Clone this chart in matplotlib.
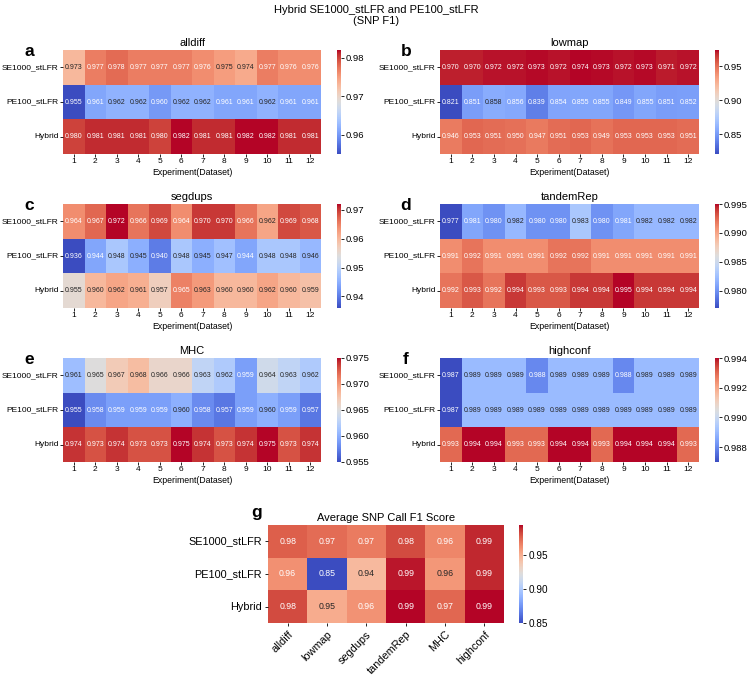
import numpy as np
import matplotlib
matplotlib.use("Agg")
import matplotlib.pyplot as plt
import seaborn as sns

plt.rcParams["font.family"] = ["Liberation Sans", "DejaVu Sans"]

W, H = 752, 685

platforms = ["SE1000_stLFR", "PE100_stLFR", "Hybrid"]
experiments = [str(i) for i in range(1, 13)]
regions = ["alldiff", "lowmap", "segdups", "tandemRep", "MHC", "highconf"]
letters = ["a", "b", "c", "d", "e", "f"]

# SNP F1 per region, rows = SE1000_stLFR, PE100_stLFR, Hybrid
alldiff = [
    [0.973, 0.977, 0.978, 0.977, 0.977, 0.977, 0.976, 0.975, 0.974, 0.977, 0.976, 0.976],
    [0.955, 0.961, 0.962, 0.962, 0.960, 0.962, 0.962, 0.961, 0.961, 0.962, 0.961, 0.961],
    [0.980, 0.981, 0.981, 0.981, 0.980, 0.982, 0.981, 0.981, 0.982, 0.982, 0.981, 0.981],
]
lowmap = [
    [0.970, 0.970, 0.972, 0.972, 0.973, 0.972, 0.974, 0.973, 0.972, 0.973, 0.971, 0.972],
    [0.821, 0.851, 0.858, 0.856, 0.839, 0.854, 0.855, 0.855, 0.849, 0.855, 0.851, 0.852],
    [0.946, 0.953, 0.951, 0.950, 0.947, 0.951, 0.953, 0.949, 0.953, 0.953, 0.953, 0.951],
]
segdups = [
    [0.964, 0.967, 0.972, 0.966, 0.969, 0.964, 0.970, 0.970, 0.966, 0.962, 0.969, 0.968],
    [0.936, 0.944, 0.948, 0.945, 0.940, 0.948, 0.945, 0.947, 0.944, 0.948, 0.948, 0.946],
    [0.955, 0.960, 0.962, 0.961, 0.957, 0.965, 0.963, 0.960, 0.960, 0.962, 0.960, 0.959],
]
tandemRep = [
    [0.977, 0.981, 0.980, 0.982, 0.980, 0.980, 0.983, 0.980, 0.981, 0.982, 0.982, 0.982],
    [0.991, 0.992, 0.991, 0.991, 0.991, 0.992, 0.992, 0.991, 0.991, 0.991, 0.991, 0.991],
    [0.992, 0.993, 0.992, 0.994, 0.993, 0.993, 0.994, 0.994, 0.995, 0.994, 0.994, 0.994],
]
MHC = [
    [0.961, 0.965, 0.967, 0.968, 0.966, 0.966, 0.963, 0.962, 0.959, 0.964, 0.963, 0.962],
    [0.955, 0.958, 0.959, 0.959, 0.959, 0.960, 0.958, 0.957, 0.959, 0.960, 0.959, 0.957],
    [0.974, 0.973, 0.974, 0.973, 0.973, 0.975, 0.974, 0.973, 0.974, 0.975, 0.973, 0.974],
]
highconf = [
    [0.987, 0.989, 0.989, 0.989, 0.988, 0.989, 0.989, 0.989, 0.988, 0.989, 0.989, 0.989],
    [0.987, 0.989, 0.989, 0.989, 0.989, 0.989, 0.989, 0.989, 0.989, 0.989, 0.989, 0.989],
    [0.993, 0.994, 0.994, 0.993, 0.993, 0.994, 0.994, 0.993, 0.994, 0.994, 0.994, 0.993],
]
panels = [alldiff, lowmap, segdups, tandemRep, MHC, highconf]


def box(x0, y0, x1, y1):
    # pixel box (top-left origin) -> figure fraction rect
    return [x0 / W, 1 - y1 / H, (x1 - x0) / W, (y1 - y0) / H]


fig = plt.figure(figsize=(W / 100, H / 100), dpi=100)
fig.suptitle("Hybrid SE1000_stLFR and PE100_stLFR\n(SNP F1)", fontsize=8, y=0.993)

col_x = [(63, 321, 337, 341), (440, 699, 715, 719)]
row_y = [50, 204, 358]
hm_h = 104

for k, (name, data) in enumerate(zip(regions, panels)):
    cx = col_x[k % 2]
    top = row_y[k // 2]
    ax = fig.add_axes(box(cx[0], top, cx[1], top + hm_h))
    cax = fig.add_axes(box(cx[2], top, cx[3], top + hm_h))
    sns.heatmap(np.array(data), ax=ax, cbar_ax=cax, cmap="coolwarm",
                annot=True, fmt=".3f", annot_kws={"fontsize": 5},
                xticklabels=experiments, yticklabels=platforms)
    ax.set_title(name, fontsize=8, pad=3)
    ax.set_xlabel("Experiment(Dataset)", fontsize=6.3, labelpad=2)
    ax.tick_params(axis="both", labelsize=6, length=2, width=0.6, pad=1.2)
    ax.set_yticklabels(platforms, rotation=0)
    ax.set_xticklabels(experiments, rotation=0)
    cax.tick_params(labelsize=6.8, length=2, width=0.6, pad=1.5)
    fig.text((cx[0] - 34) / W, 1 - (top + 1) / H, letters[k],
             fontsize=12.5, fontweight="bold", ha="center", va="center")

# average over the 12 experiments
avg = np.array([np.mean(p, axis=1) for p in panels]).T

ax = fig.add_axes(box(268, 525, 504, 623))
cax = fig.add_axes(box(519, 525, 523, 623))
sns.heatmap(avg, ax=ax, cbar_ax=cax, cmap="coolwarm", annot=True, fmt=".2f",
            annot_kws={"fontsize": 6.3}, xticklabels=regions, yticklabels=platforms)
ax.set_title("Average SNP Call F1 Score", fontsize=8, pad=3)
ax.tick_params(axis="both", labelsize=7.8, length=2.5, width=0.6, pad=2)
ax.set_yticklabels(platforms, rotation=0)
ax.set_xticklabels(regions, rotation=45, ha="right", rotation_mode="anchor")
cax.tick_params(labelsize=7.2, length=2.5, width=0.6, pad=1.5)
fig.text(257 / W, 1 - 513 / H, "g", fontsize=12.5, fontweight="bold",
         ha="center", va="center")

fig.savefig("out.png", dpi=100)
